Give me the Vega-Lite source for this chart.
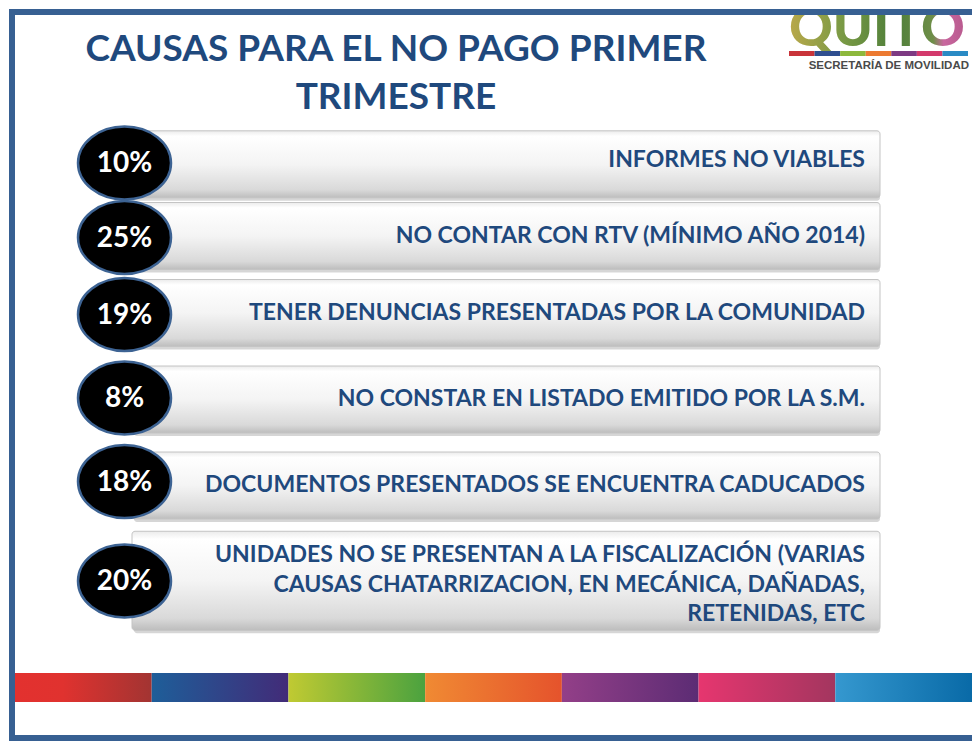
{
  "$schema": "https://vega.github.io/schema/vega-lite/v6.json",
  "width": 972,
  "height": 741,
  "autosize": {"type": "fit", "contains": "padding"},
  "padding": 0,
  "background": "#FFFFFF",
  "config": {"view": {"stroke": null}},
  "datasets": {
    "causas": [
      {"orden": 1, "porcentaje": 0.10, "causa": "INFORMES NO VIABLES"},
      {"orden": 2, "porcentaje": 0.25, "causa": "NO CONTAR CON RTV (MÍNIMO AÑO 2014)"},
      {"orden": 3, "porcentaje": 0.19, "causa": "TENER DENUNCIAS PRESENTADAS POR LA COMUNIDAD"},
      {"orden": 4, "porcentaje": 0.08, "causa": "NO CONSTAR EN LISTADO EMITIDO POR LA S.M."},
      {"orden": 5, "porcentaje": 0.18, "causa": "DOCUMENTOS PRESENTADOS SE ENCUENTRA CADUCADOS"},
      {"orden": 6, "porcentaje": 0.20, "causa": ["UNIDADES NO SE PRESENTAN A LA FISCALIZACIÓN (VARIAS", "CAUSAS CHATARRIZACION, EN MECÁNICA, DAÑADAS,", "RETENIDAS, ETC"]}
    ],
    "titulo": [
      {"linea": 1, "texto": "CAUSAS PARA EL NO PAGO PRIMER"},
      {"linea": 2, "texto": "TRIMESTRE"}
    ],
    "franjas": [
      {"seg": 0}, {"seg": 1}, {"seg": 2}, {"seg": 3}, {"seg": 4}, {"seg": 5}, {"seg": 6}
    ],
    "marco": [{}]
  },
  "resolve": {"scale": {"x": "independent", "y": "independent", "fill": "independent", "color": "independent", "size": "independent"}},
  "layer": [
    {
      "data": {"values": [{"logo": "QUITO"}]},
      "mark": {"type": "text", "align": "left", "baseline": "alphabetic", "font": "Lato", "fontWeight": 900, "fontSize": 54,
        "fill": {"gradient": "linear", "x1": 0, "y1": 0, "x2": 1, "y2": 0, "stops": [{"offset": 0, "color": "#B9A84A"}, {"offset": 0.3, "color": "#7A9A45"}, {"offset": 0.6, "color": "#4F7F3A"}, {"offset": 0.82, "color": "#6E8E48"}, {"offset": 0.88, "color": "#C9679F"}, {"offset": 1, "color": "#B85A8E"}]}},
      "encoding": {
        "text": {"field": "logo", "type": "nominal"},
        "x": {"datum": 789, "type": "quantitative", "scale": {"domain": [0, 972], "range": [0, 972], "zero": false, "nice": false}, "axis": null},
        "y": {"datum": 46, "type": "quantitative", "scale": {"domain": [0, 741], "range": [0, 741], "zero": false, "nice": false}, "axis": null}
      }
    },
    {
      "data": {"name": "marco"},
      "mark": {"type": "rect", "fill": "#FFFFFF"},
      "encoding": {
        "x": {"datum": 700, "type": "quantitative", "scale": {"domain": [0, 972], "range": [0, 972], "zero": false, "nice": false}, "axis": null},
        "x2": {"datum": 972},
        "y": {"datum": 0, "type": "quantitative", "scale": {"domain": [0, 741], "range": [0, 741], "zero": false, "nice": false}, "axis": null},
        "y2": {"datum": 10}
      }
    },
    {
      "data": {"name": "marco"},
      "mark": {"type": "rule", "stroke": "#376092", "strokeWidth": 6},
      "encoding": {
        "x": {"datum": 12, "type": "quantitative", "scale": {"domain": [0, 972], "range": [0, 972], "zero": false, "nice": false}, "axis": null},
        "y": {"datum": 9, "type": "quantitative", "scale": {"domain": [0, 741], "range": [0, 741], "zero": false, "nice": false}, "axis": null},
        "y2": {"datum": 741}
      }
    },
    {
      "data": {"name": "marco"},
      "mark": {"type": "rule", "stroke": "#376092", "strokeWidth": 6},
      "encoding": {
        "x": {"datum": 9, "type": "quantitative", "scale": {"domain": [0, 972], "range": [0, 972], "zero": false, "nice": false}, "axis": null},
        "x2": {"datum": 972},
        "y": {"datum": 12, "type": "quantitative", "scale": {"domain": [0, 741], "range": [0, 741], "zero": false, "nice": false}, "axis": null}
      }
    },
    {
      "data": {"name": "marco"},
      "mark": {"type": "rule", "stroke": "#376092", "strokeWidth": 6},
      "encoding": {
        "x": {"datum": 9, "type": "quantitative", "scale": {"domain": [0, 972], "range": [0, 972], "zero": false, "nice": false}, "axis": null},
        "x2": {"datum": 972},
        "y": {"datum": 738, "type": "quantitative", "scale": {"domain": [0, 741], "range": [0, 741], "zero": false, "nice": false}, "axis": null}
      }
    },
    {
      "data": {"name": "franjas"},
      "mark": {"type": "rect"},
      "encoding": {
        "x": {"field": "seg", "type": "ordinal", "scale": {"domain": [0, 1, 2, 3, 4, 5, 6], "range": [789, 968], "paddingInner": 0, "paddingOuter": 0}, "axis": null},
        "y": {"datum": 51, "type": "quantitative", "scale": {"domain": [0, 741], "range": [0, 741], "zero": false, "nice": false}, "axis": null},
        "y2": {"datum": 56},
        "fill": {"field": "seg", "type": "nominal", "scale": {"domain": [0, 1, 2, 3, 4, 5, 6], "range": ["#C9343A", "#2F4F8F", "#8DB83C", "#EC7A31", "#7D3A82", "#D33A6C", "#2A8AC4"]}, "legend": null}
      }
    },
    {
      "data": {"values": [{"texto": "SECRETARÍA DE MOVILIDAD"}]},
      "mark": {"type": "text", "align": "right", "baseline": "middle", "font": "Liberation Sans Narrow, Liberation Sans", "fontWeight": "bold", "fontSize": 11.5, "fill": "#4A4A4A"},
      "encoding": {
        "text": {"field": "texto", "type": "nominal"},
        "x": {"datum": 969, "type": "quantitative", "scale": {"domain": [0, 972], "range": [0, 972], "zero": false, "nice": false}, "axis": null},
        "y": {"datum": 66, "type": "quantitative", "scale": {"domain": [0, 741], "range": [0, 741], "zero": false, "nice": false}, "axis": null}
      }
    },
    {
      "data": {"name": "titulo"},
      "mark": {"type": "text", "align": "center", "baseline": "alphabetic", "font": "Lato", "fontWeight": "bold", "fontSize": 37, "fill": "#1F497D"},
      "encoding": {
        "text": {"field": "texto", "type": "nominal"},
        "x": {"datum": 396, "type": "quantitative", "scale": {"domain": [0, 972], "range": [0, 972], "zero": false, "nice": false}, "axis": null},
        "y": {"field": "linea", "type": "quantitative", "scale": {"domain": [1, 2], "range": [61, 109], "zero": false, "nice": false}, "axis": null}
      }
    },
    {
      "data": {"name": "causas"},
      "mark": {"type": "bar", "orient": "horizontal", "cornerRadius": 3, "fill": "#000000", "opacity": 0.16, "xOffset": 2, "yOffset": 3},
      "encoding": {
        "y": {"field": "orden", "type": "quantitative", "scale": {"domain": [1, 2, 3, 4, 5, 6], "range": [160, 236, 313, 399.5, 485.5, 586.5], "zero": false, "nice": false}, "axis": null},
        "x": {"datum": 132, "type": "quantitative", "scale": {"domain": [0, 972], "range": [0, 972], "zero": false, "nice": false}, "axis": null},
        "x2": {"datum": 880},
        "size": {"condition": {"test": "datum.orden == 6", "value": 99}, "value": 67}
      }
    },
    {
      "data": {"name": "causas"},
      "mark": {"type": "bar", "orient": "horizontal", "cornerRadius": 3, "stroke": "#C4C4C4", "strokeWidth": 1,
        "fill": {"gradient": "linear", "x1": 0, "y1": 0, "x2": 0, "y2": 1, "stops": [{"offset": 0, "color": "#EBEBEB"}, {"offset": 0.08, "color": "#FFFFFF"}, {"offset": 0.5, "color": "#F4F4F4"}, {"offset": 0.88, "color": "#D9D9D9"}, {"offset": 1, "color": "#BDBDBD"}]}},
      "encoding": {
        "y": {"field": "orden", "type": "quantitative", "scale": {"domain": [1, 2, 3, 4, 5, 6], "range": [160, 236, 313, 399.5, 485.5, 586.5], "zero": false, "nice": false}, "axis": null},
        "x": {"datum": 132, "type": "quantitative", "scale": {"domain": [0, 972], "range": [0, 972], "zero": false, "nice": false}, "axis": null},
        "x2": {"datum": 880},
        "size": {"condition": {"test": "datum.orden == 6", "value": 99}, "value": 67}
      }
    },
    {
      "data": {"name": "causas"},
      "mark": {"type": "point", "filled": true, "fill": "#000000", "opacity": 1, "stroke": "#3D6393", "strokeWidth": 2.5, "strokeOpacity": 1,
        "shape": "M -1 0 A 1 0.785 0 1 1 1 0 A 1 0.785 0 1 1 -1 0 Z", "size": 8649},
      "encoding": {
        "x": {"datum": 124.5, "type": "quantitative", "scale": {"domain": [0, 972], "range": [0, 972], "zero": false, "nice": false}, "axis": null},
        "y": {"field": "orden", "type": "quantitative", "scale": {"domain": [1, 2, 3, 4, 5, 6], "range": [163, 237.5, 314.5, 398, 481.5, 581], "zero": false, "nice": false}, "axis": null}
      }
    },
    {
      "data": {"name": "causas"},
      "mark": {"type": "text", "align": "center", "baseline": "middle", "font": "Lato", "fontWeight": "bold", "fontSize": 28, "fill": "#FFFFFF", "dy": 1},
      "encoding": {
        "text": {"field": "porcentaje", "type": "quantitative", "format": ".0%"},
        "x": {"datum": 124.5, "type": "quantitative", "scale": {"domain": [0, 972], "range": [0, 972], "zero": false, "nice": false}, "axis": null},
        "y": {"field": "orden", "type": "quantitative", "scale": {"domain": [1, 2, 3, 4, 5, 6], "range": [163, 237.5, 314.5, 398, 481.5, 581], "zero": false, "nice": false}, "axis": null}
      }
    },
    {
      "data": {"name": "causas"},
      "mark": {"type": "text", "align": "right", "baseline": "middle", "font": "Lato", "fontWeight": "bold", "fontSize": 23, "lineHeight": 29.5, "fill": "#1F497D"},
      "encoding": {
        "text": {"field": "causa", "type": "nominal"},
        "x": {"datum": 865, "type": "quantitative", "scale": {"domain": [0, 972], "range": [0, 972], "zero": false, "nice": false}, "axis": null},
        "y": {"field": "orden", "type": "quantitative", "scale": {"domain": [1, 2, 3, 4, 5, 6], "range": [160, 236, 313, 399, 485, 555], "zero": false, "nice": false}, "axis": null}
      }
    },
    {
      "data": {"name": "franjas"},
      "transform": [{"filter": "datum.seg == 0"}],
      "mark": {"type": "rect", "fill": {"gradient": "linear", "x1": 0, "y1": 0, "x2": 1, "y2": 0, "stops": [{"offset": 0, "color": "#E3312F"}, {"offset": 0.35, "color": "#E0322F"}, {"offset": 1, "color": "#A23432"}]}},
      "encoding": {
        "x": {"field": "seg", "type": "ordinal", "scale": {"domain": [0, 1, 2, 3, 4, 5, 6], "range": [15, 972], "paddingInner": 0, "paddingOuter": 0}, "axis": null},
        "y": {"datum": 673, "type": "quantitative", "scale": {"domain": [0, 741], "range": [0, 741], "zero": false, "nice": false}, "axis": null},
        "y2": {"datum": 702}
      }
    },
    {
      "data": {"name": "franjas"},
      "transform": [{"filter": "datum.seg == 1"}],
      "mark": {"type": "rect", "fill": {"gradient": "linear", "x1": 0, "y1": 0, "x2": 1, "y2": 0, "stops": [{"offset": 0, "color": "#1E5E99"}, {"offset": 1, "color": "#422B78"}]}},
      "encoding": {
        "x": {"field": "seg", "type": "ordinal", "scale": {"domain": [0, 1, 2, 3, 4, 5, 6], "range": [15, 972], "paddingInner": 0, "paddingOuter": 0}, "axis": null},
        "y": {"datum": 673, "type": "quantitative", "scale": {"domain": [0, 741], "range": [0, 741], "zero": false, "nice": false}, "axis": null},
        "y2": {"datum": 702}
      }
    },
    {
      "data": {"name": "franjas"},
      "transform": [{"filter": "datum.seg == 2"}],
      "mark": {"type": "rect", "fill": {"gradient": "linear", "x1": 0, "y1": 0, "x2": 1, "y2": 0, "stops": [{"offset": 0, "color": "#C0CA32"}, {"offset": 1, "color": "#4BA23F"}]}},
      "encoding": {
        "x": {"field": "seg", "type": "ordinal", "scale": {"domain": [0, 1, 2, 3, 4, 5, 6], "range": [15, 972], "paddingInner": 0, "paddingOuter": 0}, "axis": null},
        "y": {"datum": 673, "type": "quantitative", "scale": {"domain": [0, 741], "range": [0, 741], "zero": false, "nice": false}, "axis": null},
        "y2": {"datum": 702}
      }
    },
    {
      "data": {"name": "franjas"},
      "transform": [{"filter": "datum.seg == 3"}],
      "mark": {"type": "rect", "fill": {"gradient": "linear", "x1": 0, "y1": 0, "x2": 1, "y2": 0, "stops": [{"offset": 0, "color": "#F08A33"}, {"offset": 1, "color": "#E5532C"}]}},
      "encoding": {
        "x": {"field": "seg", "type": "ordinal", "scale": {"domain": [0, 1, 2, 3, 4, 5, 6], "range": [15, 972], "paddingInner": 0, "paddingOuter": 0}, "axis": null},
        "y": {"datum": 673, "type": "quantitative", "scale": {"domain": [0, 741], "range": [0, 741], "zero": false, "nice": false}, "axis": null},
        "y2": {"datum": 702}
      }
    },
    {
      "data": {"name": "franjas"},
      "transform": [{"filter": "datum.seg == 4"}],
      "mark": {"type": "rect", "fill": {"gradient": "linear", "x1": 0, "y1": 0, "x2": 1, "y2": 0, "stops": [{"offset": 0, "color": "#933F88"}, {"offset": 1, "color": "#5C2C74"}]}},
      "encoding": {
        "x": {"field": "seg", "type": "ordinal", "scale": {"domain": [0, 1, 2, 3, 4, 5, 6], "range": [15, 972], "paddingInner": 0, "paddingOuter": 0}, "axis": null},
        "y": {"datum": 673, "type": "quantitative", "scale": {"domain": [0, 741], "range": [0, 741], "zero": false, "nice": false}, "axis": null},
        "y2": {"datum": 702}
      }
    },
    {
      "data": {"name": "franjas"},
      "transform": [{"filter": "datum.seg == 5"}],
      "mark": {"type": "rect", "fill": {"gradient": "linear", "x1": 0, "y1": 0, "x2": 1, "y2": 0, "stops": [{"offset": 0, "color": "#E6366F"}, {"offset": 1, "color": "#A3365F"}]}},
      "encoding": {
        "x": {"field": "seg", "type": "ordinal", "scale": {"domain": [0, 1, 2, 3, 4, 5, 6], "range": [15, 972], "paddingInner": 0, "paddingOuter": 0}, "axis": null},
        "y": {"datum": 673, "type": "quantitative", "scale": {"domain": [0, 741], "range": [0, 741], "zero": false, "nice": false}, "axis": null},
        "y2": {"datum": 702}
      }
    },
    {
      "data": {"name": "franjas"},
      "transform": [{"filter": "datum.seg == 6"}],
      "mark": {"type": "rect", "fill": {"gradient": "linear", "x1": 0, "y1": 0, "x2": 1, "y2": 0, "stops": [{"offset": 0, "color": "#3598CF"}, {"offset": 1, "color": "#096AA7"}]}},
      "encoding": {
        "x": {"field": "seg", "type": "ordinal", "scale": {"domain": [0, 1, 2, 3, 4, 5, 6], "range": [15, 972], "paddingInner": 0, "paddingOuter": 0}, "axis": null},
        "y": {"datum": 673, "type": "quantitative", "scale": {"domain": [0, 741], "range": [0, 741], "zero": false, "nice": false}, "axis": null},
        "y2": {"datum": 702}
      }
    }
  ]
}
